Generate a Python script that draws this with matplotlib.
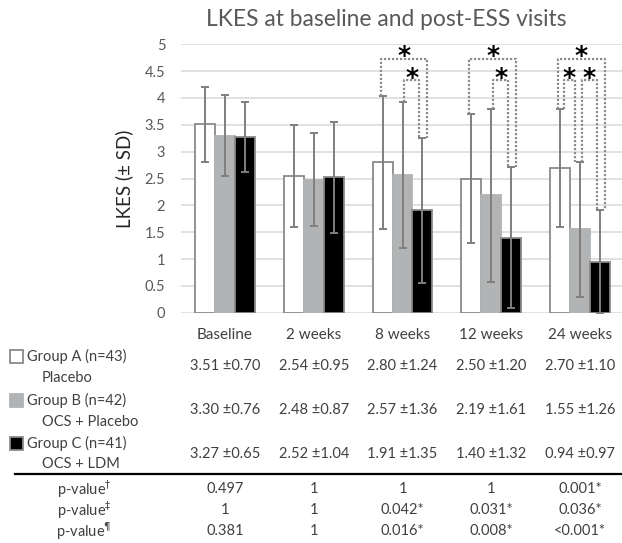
import matplotlib
matplotlib.use('Agg')
import matplotlib.pyplot as plt
import matplotlib.transforms as mtransforms
from matplotlib.patches import Rectangle
import numpy as np

# visit labels and group means / SDs
categories = ['Baseline', '2 weeks', '8 weeks', '12 weeks', '24 weeks']

mean_a = [3.51, 2.54, 2.80, 2.50, 2.70]
sd_a   = [0.70, 0.95, 1.24, 1.20, 1.10]
mean_b = [3.30, 2.48, 2.57, 2.19, 1.55]
sd_b   = [0.76, 0.87, 1.36, 1.61, 1.26]
mean_c = [3.27, 2.52, 1.91, 1.40, 0.94]
sd_c   = [0.65, 1.04, 1.35, 1.32, 0.97]

group_names = ['Group A (n=43)', 'Group B (n=42)', 'Group C (n=41)']
group_subs  = ['Placebo', 'OCS + Placebo', 'OCS + LDM']

# pairwise p-values (A vs B, B vs C, A vs C)
p_labels = [r'p-value$^{\dagger}$', r'p-value$^{\ddagger}$', r'p-value$^{\P}$']
p_ab = ['0.497', '1', '1', '1', '0.001*']
p_bc = ['1', '1', '0.042*', '0.031*', '0.036*']
p_ac = ['0.381', '1', '0.016*', '0.008*', '<0.001*']

W, H = 622, 543
plt.rcParams['font.family'] = ['Lato', 'DejaVu Sans']

fig = plt.figure(figsize=(W / 100, H / 100), dpi=100)
ax = fig.add_axes([180.6 / W, 1 - 312.7 / H, 443.8 / W, 268.4 / H])


def fig_xy(x, y):
    return x / W, 1 - y / H


means = [mean_a, mean_b, mean_c]
sds = [sd_a, sd_b, sd_c]
fills = ['white', '#b1b3b4', 'black']
edges = ['#8a8a8a', '#b1b3b4', '#8a8a8a']

x = np.arange(len(categories))
bw = 0.225
offs = [-bw, 0, bw]

for g in range(3):
    ax.bar(x + offs[g], means[g], bw, color=fills[g], edgecolor=edges[g],
           linewidth=1.3, zorder=2)
    ax.errorbar(x + offs[g], means[g], yerr=sds[g], fmt='none',
                ecolor='#7f7f7f', elinewidth=1.4, capsize=3, capthick=1.4,
                zorder=3)

ax.set_xlim(-0.5, 4.5)
ax.set_ylim(0, 5)
ax.set_yticks(np.arange(0, 5.01, 0.5))
ax.set_yticklabels(['%g' % v for v in np.arange(0, 5.01, 0.5)])
ax.set_xticks([])
ax.tick_params(axis='y', length=0, labelsize=10.5, labelcolor='#595959', pad=11)
ax.grid(axis='y', color='#d9d9d9', linewidth=1.1, zorder=0)
ax.set_axisbelow(True)
for s in ax.spines.values():
    s.set_visible(False)

ax.set_ylabel('LKES (\u00b1 SD)', fontsize=13.5, color='#262626', labelpad=8)

# significance brackets
px = 1 / 88.8
pairs = [(0, 1, p_ab), (1, 2, p_bc), (0, 2, p_ac)]
shift = {(0, 1): (4, -5), (1, 2): (2, -3), (0, 2): (-2, 5)}
for g1, g2, pv in pairs:
    top = 4.73 if (g1, g2) == (0, 2) else 4.33
    for i, p in enumerate(pv):
        if '*' not in p:
            continue
        x1 = x[i] + offs[g1] + shift[(g1, g2)][0] * px
        x2 = x[i] + offs[g2] + shift[(g1, g2)][1] * px
        y1 = means[g1][i] + sds[g1][i]
        y2 = means[g2][i] + sds[g2][i]
        ax.plot([x1, x1, x2, x2], [y1, top, top, y2], color='#8c8c8c',
                linestyle=(0, (1, 0.8)), linewidth=1.6, zorder=4,
                clip_on=False)
        ax.text((x1 + x2) / 2, top + 0.05, '*', ha='center', va='center',
                fontsize=18, fontweight='bold', family='DejaVu Sans',
                color='black', zorder=5)

fig.text(*fig_xy(386, 20), 'LKES at baseline and post-ESS visits',
         ha='center', va='center', fontsize=16.4, color='#595959')

# table under the chart, columns follow the bar groups
col = mtransforms.blended_transform_factory(ax.transData, fig.transFigure)
txt = '#404040'

for i, c in enumerate(categories):
    ax.text(x[i], 1 - 335 / H, c, transform=col, ha='center', va='center',
            fontsize=11, color=txt)

row_y = [366, 410, 454]
for g in range(3):
    for i in range(len(categories)):
        ax.text(x[i], 1 - row_y[g] / H,
                '%.2f \u00b1%.2f' % (means[g][i], sds[g][i]),
                transform=col, ha='center', va='center', fontsize=10.5,
                color=txt)

legend_y = [356, 400, 443]
for g in range(3):
    fig.patches.append(Rectangle(fig_xy(10, legend_y[g] + 6.5), 13 / W, 13 / H,
                                 transform=fig.transFigure,
                                 facecolor=fills[g], edgecolor=edges[g],
                                 linewidth=1.3))
    fig.text(*fig_xy(27, legend_y[g]), group_names[g], ha='left',
             va='center', fontsize=10.5, color=txt)
    fig.text(*fig_xy(42, legend_y[g] + 21.5), group_subs[g], ha='left',
             va='center', fontsize=10.5, color=txt)

fig.add_artist(plt.Line2D([15 / W, 1], [1 - 474 / H] * 2, color='black',
                          linewidth=1.6, transform=fig.transFigure))

p_y = [489, 510, 531]
for r, pv in enumerate([p_ab, p_bc, p_ac]):
    fig.text(*fig_xy(84, p_y[r]), p_labels[r], ha='center', va='center',
             fontsize=10.5, color=txt)
    for i, p in enumerate(pv):
        ax.text(x[i], 1 - p_y[r] / H, p, transform=col, ha='center',
                va='center', fontsize=10.5, color=txt)

fig.savefig('out.png', dpi=100)
